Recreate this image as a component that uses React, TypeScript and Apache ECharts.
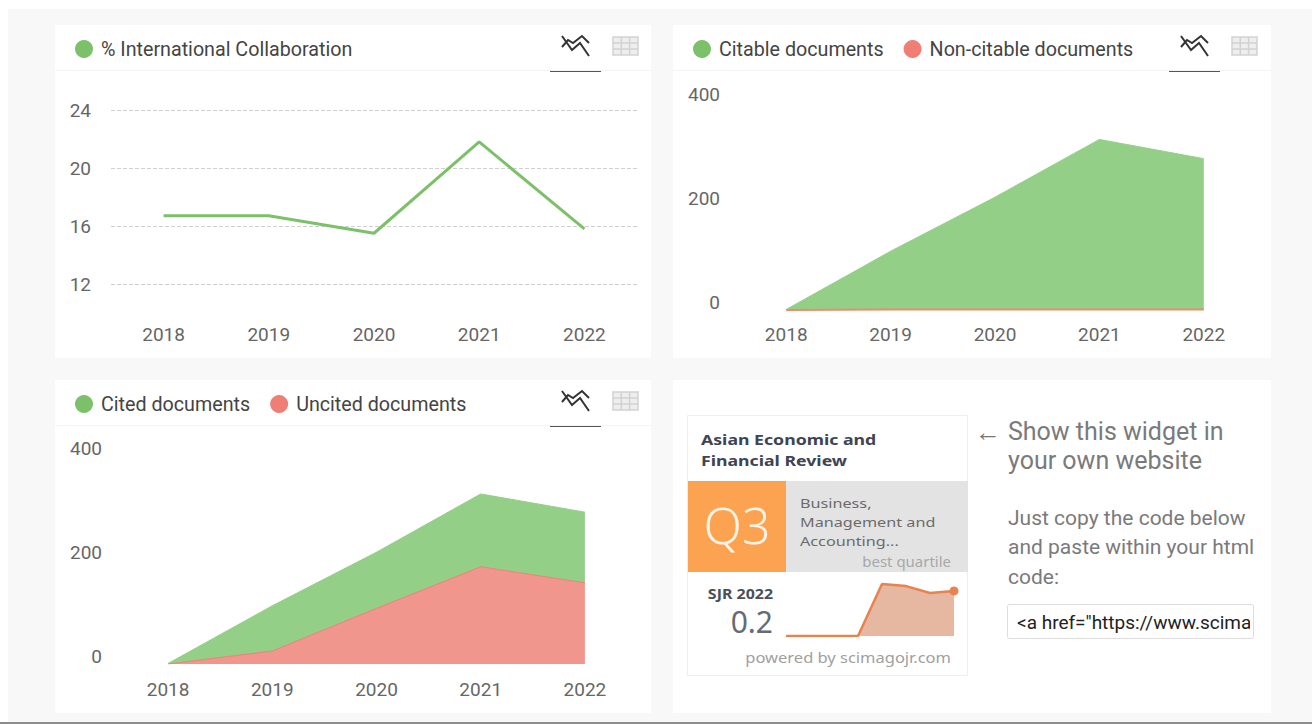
import React, { useEffect, useRef } from "react";
import * as echarts from "echarts";

const years = ["2018", "2019", "2020", "2021", "2022"];
const intlCollab = [16.7, 16.7, 15.5, 21.8, 15.8];
const citable = [1, 113, 217, 328, 291];
const nonCitable = [0, 1, 1, 1, 1];
const cited = [1, 87, 108, 140, 136];
const uncited = [0, 25, 107, 187, 156];
const sjrYears = ["2015", "2016", "2017", "2018", "2019", "2020", "2021", "2022"];
const sjrValues = [0, 0, 0, 0, 0.217, 0.208, 0.179, 0.188];

const GREEN = "#7cc16a";
const RED = "#ef7f74";
const GREEN_AREA = "#93cf87";
const RED_AREA = "#f1968c";
const TEXT = "#666666";
const FONT = "Roboto";
const WIDGET_FONT = "'Noto Sans'";

echarts.graphic.registerShape(
  "trendIcon",
  echarts.graphic.extendPath(
    "M1 0 L11 14 L19 7 L28 20 M1 11 L7 4 L12 7 L21 0 L28 7",
    {}
  )
);
echarts.graphic.registerShape(
  "tableIcon",
  echarts.graphic.extendPath(
    "M0 0 L25 0 L25 18 L0 18 Z M8.3 0 L8.3 18 M16.6 0 L16.6 18 M0 6 L25 6 M0 12 L25 12",
    {}
  )
);

const panels = [
  [55, 25],
  [673, 25],
  [55, 380],
  [673, 380],
];

function txt(text: string, x: number, y: number, fontSize: number, fill: string, extra: any = {}, scaleX = 1) {
  return {
    type: "text",
    x,
    y,
    scaleX,
    style: { text, fontSize, fill, fontFamily: FONT, verticalAlign: "middle", ...extra },
  };
}

function buildGraphics() {
  const g: any[] = [
    { type: "rect", z: -3, shape: { x: 8, y: 9, width: 1304, height: 713 }, style: { fill: "#f8f8f8" } },
    { type: "rect", z: -3, shape: { x: 0, y: 722, width: 1312, height: 2 }, style: { fill: "#8c8c8c" } },
  ];
  panels.forEach(([x, y], i) => {
    const w = i % 2 === 0 ? 596 : 598;
    const nudge = i === 1 ? 1 : 0;
    g.push({ type: "rect", z: -2, shape: { x, y, width: w, height: 333 }, style: { fill: "#ffffff" } });
    if (i < 3) {
      g.push({ type: "rect", z: -1, shape: { x, y: y + 45, width: w, height: 1 }, style: { fill: "#f4f4f4" } });
      g.push({ type: "rect", shape: { x: x + 495 + nudge, y: y + 46, width: 51, height: 1 }, style: { fill: "#555555" } });
      g.push({
        type: "trendIcon",
        x: x + 506 + nudge,
        y: y + 11,
        style: { fill: "none", stroke: "#333333", lineWidth: 2 },
      });
      g.push({ type: "rect", shape: { x: x + 558 + nudge, y: y + 12, width: 25, height: 18 }, style: { fill: "#eeeeee" } });
      g.push({
        type: "tableIcon",
        x: x + 558 + nudge,
        y: y + 12,
        style: { fill: "none", stroke: "#d2d2d2", lineWidth: 1.5 },
      });
    }
  });

  // widget card
  g.push({
    type: "rect",
    z: -1,
    shape: { x: 687.5, y: 415.5, width: 280, height: 260 },
    style: { fill: "#ffffff", stroke: "#eeeeee", lineWidth: 1 },
  });
  g.push({ type: "rect", shape: { x: 688, y: 481, width: 98, height: 91 }, style: { fill: "#fba350" } });
  g.push({ type: "rect", shape: { x: 786, y: 481, width: 182, height: 91 }, style: { fill: "#e3e3e3" } });
  const wf = { fontFamily: WIDGET_FONT };
  g.push(txt("Asian Economic and", 701, 439, 15, "#3e4452", { ...wf, fontWeight: "bold" }, 1.18));
  g.push(txt("Financial Review", 701, 460, 15, "#3e4452", { ...wf, fontWeight: "bold" }, 1.18));
  g.push(txt("Q3", 737, 525, 50, "#fff3e6", { ...wf, fontWeight: 300, align: "center" }));
  g.push(txt("Business,", 800, 503, 13.5, "#6b6b6b", wf, 1.2));
  g.push(txt("Management and", 800, 522, 13.5, "#6b6b6b", wf, 1.2));
  g.push(txt("Accounting...", 800, 541, 13.5, "#6b6b6b", wf, 1.2));
  g.push(txt("best quartile", 951, 562, 14, "#a8a8a8", { ...wf, align: "right" }, 1.07));
  g.push(txt("SJR 2022", 773, 593, 14.5, "#4a4f5a", { ...wf, fontWeight: "bold", align: "right" }, 1.1));
  g.push(txt("0.2", 773, 621, 30, "#666b75", { ...wf, align: "right" }));
  g.push(txt("powered by scimagojr.com", 951, 657, 15, "#a0a0a0", { ...wf, align: "right" }, 1.1));

  // right-hand text
  g.push(txt("←", 975, 432, 26, "#777777"));
  g.push(txt("Show this widget in", 1008, 431, 25, "#7a7a7a"));
  g.push(txt("your own website", 1008, 460, 25, "#7a7a7a"));
  g.push(txt("Just copy the code below", 1008, 518, 21, "#7a7a7a"));
  g.push(txt("and paste within your html", 1008, 547, 21, "#7a7a7a"));
  g.push(txt("code:", 1008, 577, 21, "#7a7a7a"));
  g.push(txt('<a href="https://www.scima', 1017, 622, 19, "#222222"));
  g.push({ type: "rect", shape: { x: 1250, y: 600, width: 21, height: 44 }, style: { fill: "#ffffff" } });
  g.push({
    type: "rect",
    shape: { x: 1007.5, y: 604.5, width: 246, height: 34, r: 2 },
    style: { fill: "none", stroke: "#dddddd", lineWidth: 1 },
  });
  return g;
}

function legend(names: string[], left: number, top: number, colors: string[], gap = 20) {
  return {
    left,
    top,
    padding: 0,
    itemGap: gap,
    itemWidth: 18,
    itemHeight: 18,
    icon: "circle",
    selectedMode: false,
    textStyle: { fontFamily: FONT, fontSize: 19.7, color: "#444444", padding: [0, 0, 0, 3] },
    data: names.map((name, i) => ({ name, itemStyle: { color: colors[i], borderWidth: 0 } })),
  };
}

function xAxis(gridIndex: number, margin: number, boundaryGap = true, data = years) {
  return {
    type: "category",
    gridIndex,
    data,
    boundaryGap,
    axisLine: { show: false },
    axisTick: { show: false },
    axisLabel: { color: TEXT, fontFamily: FONT, fontSize: 19, margin },
  };
}

function areaY(gridIndex: number) {
  return {
    type: "value",
    gridIndex,
    min: 0,
    max: 400,
    interval: 200,
    splitLine: { show: false },
    axisLine: { show: false },
    axisTick: { show: false },
    axisLabel: {
      color: TEXT,
      fontFamily: FONT,
      fontSize: 19,
      margin: 14,
      verticalAlign: "bottom",
      lineHeight: 16,
    },
  };
}

function area(name: string, xi: number, data: number[], line: string, fill: string, stack: string, z = 2, width = 1) {
  return {
    name,
    type: "line",
    xAxisIndex: xi,
    yAxisIndex: xi,
    data,
    stack,
    z,
    symbol: "none",
    itemStyle: { color: line },
    lineStyle: { color: line, width },
    areaStyle: { color: fill, opacity: 1 },
  };
}

export default function App() {
  const ref = useRef<HTMLDivElement>(null);
  useEffect(() => {
    document.body.style.margin = "0";
    const chart = echarts.init(ref.current!, null, { renderer: "svg" });
    chart.setOption({
      animation: false,
      backgroundColor: "#ffffff",
      graphic: { elements: buildGraphics() },
      legend: [
        legend(["% International Collaboration"], 75, 39, [GREEN]),
        legend(["Citable documents", "Non-citable documents"], 693, 39, [GREEN, RED]),
        legend(["Cited documents", "Uncited documents"], 75, 394, [GREEN, RED]),
      ],
      grid: [
        { left: 111, width: 526, top: 110, height: 174 },
        { left: 734, width: 522, top: 102, height: 208 },
        { left: 116, width: 521, top: 456, height: 208 },
        { left: 786, width: 168, top: 576, height: 60 },
      ],
      xAxis: [
        xAxis(0, 41),
        xAxis(1, 15),
        xAxis(2, 16),
        { ...xAxis(3, 0, false, sjrYears), axisLabel: { show: false } },
      ],
      yAxis: [
        {
          type: "value",
          gridIndex: 0,
          min: 12,
          max: 24,
          interval: 4,
          axisLine: { show: false },
          axisTick: { show: false },
          splitLine: { lineStyle: { color: "#d0d0d0", type: "dashed", width: 1 } },
          axisLabel: { color: TEXT, fontFamily: FONT, fontSize: 19, margin: 20 },
        },
        areaY(1),
        areaY(2),
        { type: "value", gridIndex: 3, min: 0, max: 0.25, show: false },
      ],
      series: [
        {
          name: "% International Collaboration",
          type: "line",
          xAxisIndex: 0,
          yAxisIndex: 0,
          data: intlCollab,
          symbol: "none",
          itemStyle: { color: GREEN },
          lineStyle: { color: GREEN, width: 3 },
        },
        area("Citable documents", 1, citable, GREEN_AREA, GREEN_AREA, "b"),
        area("Non-citable documents", 1, nonCitable, "#ee8a6e", RED_AREA, "d", 3, 2),
        area("Uncited documents", 2, uncited, RED, RED_AREA, "c", 3),
        area("Cited documents", 2, cited, GREEN_AREA, GREEN_AREA, "c"),
        {
          name: "SJR",
          type: "line",
          xAxisIndex: 3,
          yAxisIndex: 3,
          data: sjrValues,
          symbol: "circle",
          symbolSize: (_: number, p: any) => (p.dataIndex === sjrValues.length - 1 ? 9 : 0),
          itemStyle: { color: "#e8824f" },
          lineStyle: { color: "#e8824f", width: 2.5 },
          areaStyle: { color: "#e6b8a2", opacity: 1 },
        },
      ],
    });
    return () => chart.dispose();
  }, []);
  return <div ref={ref} style={{ position: "absolute", left: 0, top: 0, width: 1312, height: 724 }} />;
}
